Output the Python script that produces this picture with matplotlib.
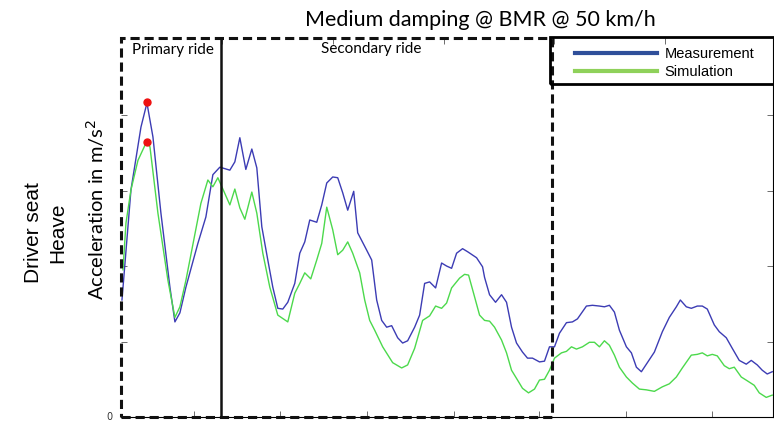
import matplotlib.pyplot as plt
from matplotlib.lines import Line2D
from matplotlib.patches import Rectangle

# Driver seat heave acceleration (time in s, accel in m/s^2)
t_meas = [0.01, 0.10, 0.20, 0.26, 0.32, 0.40, 0.49, 0.54, 0.59, 0.65, 0.77, 0.85, 0.92, 0.99,
          1.09, 1.14, 1.19, 1.25, 1.31, 1.36, 1.41, 1.47, 1.52, 1.57, 1.62, 1.67, 1.74, 1.79,
          1.84, 1.89, 1.96, 2.01, 2.06, 2.12, 2.17, 2.22, 2.27, 2.33, 2.37, 2.46, 2.51, 2.56,
          2.61, 2.66, 2.71, 2.77, 2.82, 2.87, 2.94, 2.99, 3.04, 3.09, 3.15, 3.21, 3.26, 3.31,
          3.36, 3.42, 3.47, 3.56, 3.62, 3.64, 3.69, 3.75, 3.81, 3.86, 3.91, 3.96, 4.02, 4.07,
          4.12, 4.19, 4.24, 4.29, 4.34, 4.39, 4.46, 4.52, 4.57, 4.66, 4.72, 4.79, 4.84, 4.89,
          4.94, 4.99, 5.06, 5.11, 5.16, 5.21, 5.27, 5.34, 5.42, 5.49, 5.56, 5.60, 5.66, 5.71,
          5.77, 5.82, 5.87, 5.94, 5.99, 6.06, 6.12, 6.19, 6.26, 6.31, 6.37, 6.42, 6.47, 6.52]
measurement = [1.55, 3.01, 3.84, 4.16, 3.71, 2.70, 1.72, 1.26, 1.38, 1.72, 2.30, 2.65, 3.21, 3.31,
               3.27, 3.38, 3.70, 3.28, 3.55, 3.30, 2.52, 2.08, 1.72, 1.44, 1.43, 1.52, 1.77, 2.17,
               2.32, 2.61, 2.58, 2.81, 3.10, 3.18, 3.17, 2.97, 2.74, 2.99, 2.44, 2.21, 2.08, 1.55,
               1.28, 1.19, 1.21, 1.05, 0.98, 1.01, 1.19, 1.35, 1.77, 1.79, 1.71, 2.04, 2.00, 1.97,
               2.17, 2.23, 2.19, 2.11, 1.99, 1.85, 1.62, 1.52, 1.62, 1.52, 1.19, 0.98, 0.86, 0.78,
               0.78, 0.73, 0.74, 0.93, 0.93, 1.11, 1.25, 1.26, 1.30, 1.47, 1.48, 1.47, 1.46, 1.48,
               1.39, 1.15, 0.93, 0.85, 0.66, 0.60, 0.72, 0.86, 1.13, 1.32, 1.46, 1.55, 1.46, 1.44,
               1.47, 1.47, 1.43, 1.22, 1.13, 1.05, 0.91, 0.75, 0.70, 0.75, 0.69, 0.62, 0.57, 0.60]

t_sim = [0.02, 0.05, 0.10, 0.17, 0.24, 0.26, 0.29, 0.37, 0.47, 0.54, 0.59, 0.65, 0.80, 0.87,
         0.92, 0.97, 1.01, 1.09, 1.14, 1.19, 1.24, 1.31, 1.36, 1.42, 1.49, 1.57, 1.67, 1.74,
         1.79, 1.84, 1.90, 1.96, 2.01, 2.06, 2.12, 2.17, 2.22, 2.27, 2.32, 2.39, 2.44, 2.49,
         2.54, 2.62, 2.72, 2.81, 2.87, 2.94, 3.02, 3.09, 3.15, 3.21, 3.26, 3.31, 3.39, 3.44,
         3.48, 3.53, 3.59, 3.64, 3.69, 3.74, 3.81, 3.86, 3.91, 3.97, 4.02, 4.08, 4.14, 4.19,
         4.24, 4.29, 4.34, 4.41, 4.46, 4.51, 4.56, 4.62, 4.69, 4.74, 4.79, 4.84, 4.89, 4.94,
         4.99, 5.06, 5.12, 5.19, 5.26, 5.34, 5.42, 5.49, 5.56, 5.62, 5.71, 5.77, 5.82, 5.87,
         5.92, 5.97, 6.04, 6.09, 6.14, 6.21, 6.27, 6.34, 6.39, 6.46, 6.52]
simulation = [1.95, 2.57, 3.01, 3.40, 3.60, 3.64, 3.58, 2.70, 1.81, 1.32, 1.46, 1.81, 2.83, 3.14,
              3.05, 3.17, 3.05, 2.81, 3.02, 2.77, 2.62, 2.98, 2.70, 2.17, 1.72, 1.35, 1.26, 1.64,
              1.77, 1.91, 1.83, 2.08, 2.30, 2.78, 2.48, 2.15, 2.21, 2.32, 2.17, 1.91, 1.55, 1.28,
              1.15, 0.93, 0.72, 0.65, 0.69, 0.91, 1.28, 1.34, 1.47, 1.44, 1.51, 1.71, 1.84, 1.89,
              1.88, 1.64, 1.35, 1.28, 1.27, 1.19, 1.02, 0.85, 0.62, 0.49, 0.38, 0.32, 0.37, 0.49,
              0.50, 0.62, 0.78, 0.85, 0.87, 0.93, 0.90, 0.93, 0.99, 0.99, 0.93, 1.01, 0.95, 0.82,
              0.66, 0.53, 0.45, 0.37, 0.36, 0.34, 0.40, 0.44, 0.53, 0.65, 0.82, 0.83, 0.85, 0.81,
              0.83, 0.81, 0.68, 0.64, 0.66, 0.53, 0.48, 0.42, 0.32, 0.26, 0.29]

# peak markers
peak_t = [0.26, 0.26]
peak_val = [4.17, 3.64]

# region borders (s)
primary_end = 1.00
secondary_end = 4.32

fig = plt.figure(figsize=(7.74, 4.22), dpi=100)
ax = fig.add_axes([0.1563, 0.0118, 0.8427, 0.898])

ax.plot(t_meas, measurement, color='#3c3cb4', lw=1.0)
ax.plot(t_sim, simulation, color='#4cd94c', lw=1.0)
ax.plot(peak_t, peak_val, 'o', color='#ee1111', ms=5, zorder=5)

ax.set_xlim(0, 6.53)
ax.set_ylim(0, 5.02)

# box around primary + secondary ride, and the split between them
ax.add_patch(Rectangle((0, 0), secondary_end, 5.02, fill=False, ec='#111111',
                       lw=2.2, ls=(0, (3, 1.6)), clip_on=False, zorder=6))
ax.axvline(primary_end, color='#111111', lw=1.8, zorder=6)

ax.text(0.52 * primary_end, 4.86, 'Primary ride', ha='center', va='center',
        fontsize=11, family='Lato')
ax.text(2.50, 4.88, 'Secondary ride', ha='center', va='center',
        fontsize=11, family='Lato')

# legend in its own box
ax.add_patch(Rectangle((0.658, 0.879), 0.36, 0.125, transform=ax.transAxes, fill=False,
                       ec='black', lw=2, clip_on=False, zorder=7))
handles = [Line2D([], [], color='#2f4f9a', lw=3), Line2D([], [], color='#8fd15a', lw=3)]
leg = ax.legend(handles, ['Measurement', 'Simulation'], loc='upper left',
                bbox_to_anchor=(0.676, 1.012), frameon=False, handlelength=5.6,
                handletextpad=0.55, labelspacing=0.3,
                prop={'family': 'Liberation Sans', 'size': 10.5})

ax.spines['left'].set_visible(False)
ax.spines['top'].set_visible(False)
ax.spines['bottom'].set_linewidth(0.8)
ax.spines['right'].set_linewidth(0.8)
ax.set_yticks([1, 2, 3, 4])
ax.set_xticks([0.73, 1.59, 2.46, 3.33, 4.19, 5.06, 5.92])
ax.tick_params(direction='in', length=4, width=0.6, left=True, right=True,
               labelleft=False, labelbottom=False, color='#555555')
top = ax.secondary_xaxis('top')
top.set_xticks([1.01, 2.12, 3.23, 4.34, 5.45])
top.tick_params(direction='in', length=4, width=0.6, labeltop=False, color='#555555')
top.spines['top'].set_visible(False)
ax.text(-0.08, 0, '0', ha='right', va='center', fontsize=7, color='#333333')

fig.text(0.62, 0.953, 'Medium damping @ BMR @ 50 km/h', ha='center', va='center',
         fontsize=15.5, family='Lato')
fig.text(0.124, 0.505, 'Acceleration in m/s$^2$', rotation=90, ha='center', va='center',
         fontsize=14.5, family='Lato')
fig.text(0.059, 0.448, 'Driver seat\nHeave', rotation=90, ha='center', va='center',
         fontsize=15, family='Liberation Sans', linespacing=1.3)

fig.savefig('out.png', dpi=100)
